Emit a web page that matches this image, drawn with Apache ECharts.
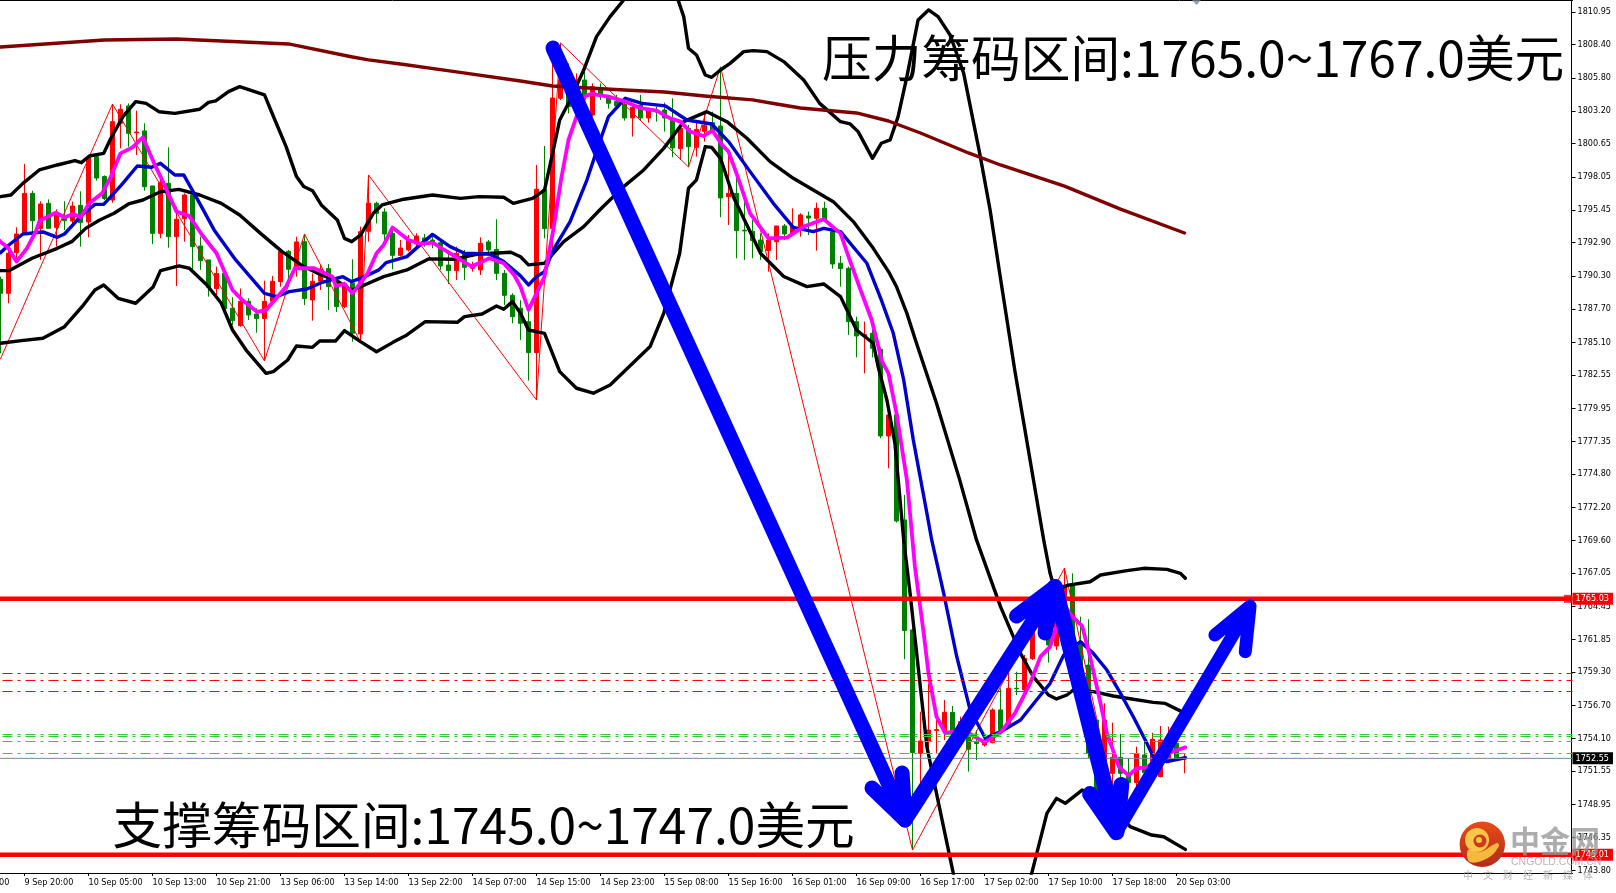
<!DOCTYPE html>
<html><head><meta charset="utf-8">
<style>html,body{margin:0;padding:0;background:#fff;overflow:hidden}#c{width:1616px;height:893px}</style>
<script src="https://cdn.jsdelivr.net/npm/echarts@6/dist/echarts.min.js"></script>
</head><body><div id="c"></div>
<script>
const tickLabels=['9 Sep 12:00','9 Sep 20:00','10 Sep 05:00','10 Sep 13:00','10 Sep 21:00','13 Sep 06:00','13 Sep 14:00','13 Sep 22:00','14 Sep 07:00','14 Sep 15:00','14 Sep 23:00','15 Sep 08:00','15 Sep 16:00','16 Sep 01:00','16 Sep 09:00','16 Sep 17:00','17 Sep 02:00','17 Sep 10:00','17 Sep 18:00','20 Sep 03:00'];
const priceTicks=[1810.95,1808.40,1805.80,1803.20,1800.65,1798.05,1795.45,1792.90,1790.30,1787.70,1785.10,1782.55,1779.95,1777.35,1774.80,1772.20,1769.60,1767.05,1764.45,1761.85,1759.30,1756.70,1754.10,1751.55,1748.95,1746.35,1743.80];
// hourly bars: open, close, low, high
const opens=[1790.03,1788.94,1792.12,1793.63,1796.76,1794.02,1795.98,1794.08,1794.81,1794.6,1795.82,1794.52,1799.63,1798.07,1796.24,1802.24,1803.6,1801.5,1801.64,1797.34,1793.63,1797.55,1793.37,1794.78,1796.63,1792.64,1791.55,1789.31,1790.5,1787.77,1786.41,1788.31,1787.32,1786.96,1788.31,1789.85,1792.22,1790.82,1792.98,1788.42,1789.88,1790.87,1789.98,1787.9,1789.72,1785.76,1793.79,1795.98,1795.3,1793.63,1791.91,1792.33,1792.8,1793.27,1793.11,1792.9,1791.15,1790.71,1792.07,1790.9,1790.77,1792.96,1792.38,1790.5,1788.78,1787.77,1786.72,1784.3,1797.08,1794.0,1804.2,1805.37,1804.85,1805.63,1802.89,1804.98,1804.33,1803.94,1803.75,1802.66,1803.67,1802.66,1803.28,1803.28,1802.45,1800.26,1801.85,1800.36,1801.61,1802.29,1802.03,1796.5,1796.76,1793.88,1793.79,1793.11,1792.28,1792.98,1794.21,1793.63,1794.16,1794.99,1794.81,1795.59,1793.76,1791.29,1790.9,1786.72,1785.6,1785.81,1784.56,1777.78,1779.42,1771.21,1762.6,1752.95,1753.86,1754.74,1754.69,1756.15,1754.64,1754.25,1753.88,1753.6,1753.78,1756.34,1755.03,1758.03,1757.9,1760.35,1762.33,1762.07,1761.35,1763.58,1766.11,1761.68,1759.85,1755.55,1749.55,1751.38,1752.63,1751.38,1750.65,1752.82,1751.38,1751.12,1752.42,1753.73,1752.5];
const closes=[1788.94,1792.07,1793.58,1796.76,1794.62,1795.93,1794.02,1795.2,1794.62,1795.77,1794.47,1799.58,1797.96,1796.35,1802.37,1803.34,1801.46,1801.56,1797.28,1793.63,1797.6,1793.37,1794.73,1796.63,1792.59,1791.5,1789.41,1790.5,1787.74,1786.8,1788.31,1787.24,1786.96,1788.31,1789.88,1792.22,1790.82,1792.96,1788.52,1789.88,1790.82,1789.46,1787.9,1789.67,1785.81,1793.76,1795.98,1795.2,1793.58,1791.91,1792.48,1793.11,1793.42,1792.8,1792.96,1791.08,1790.71,1792.07,1790.97,1791.18,1792.85,1792.33,1790.5,1788.78,1787.11,1786.59,1784.3,1797.08,1794.0,1804.22,1805.63,1803.54,1805.63,1804.33,1805.11,1804.33,1803.81,1803.6,1802.66,1803.49,1802.66,1803.28,1803.13,1802.66,1800.31,1801.85,1800.41,1801.77,1802.08,1801.61,1796.4,1796.76,1793.84,1793.82,1793.06,1792.2,1793.11,1794.21,1793.58,1794.16,1795.07,1794.83,1795.59,1794.68,1791.23,1790.87,1786.72,1785.6,1785.71,1784.64,1777.78,1779.42,1771.13,1762.55,1753.0,1753.91,1754.77,1754.8,1756.15,1754.77,1755.42,1753.26,1753.72,1753.99,1756.34,1754.77,1758.03,1758.0,1760.38,1762.46,1763.11,1761.42,1763.69,1766.11,1762.07,1759.72,1752.95,1749.95,1755.55,1752.63,1751.38,1750.65,1752.89,1751.43,1754.04,1753.99,1754.25,1752.55,1752.55];
const lows=[1784.24,1788.16,1791.55,1793.50,1793.50,1791.55,1794.02,1792.59,1793.89,1794.41,1792.59,1793.32,1797.75,1796.24,1796.03,1800.28,1800.41,1799.76,1796.97,1792.8,1793.24,1792.51,1789.51,1792.98,1790.77,1790.77,1788.68,1788.68,1787.37,1786.46,1786.33,1786.85,1785.86,1783.72,1788.16,1789.46,1789.46,1790.24,1788.02,1786.8,1789.2,1787.63,1787.48,1787.77,1785.16,1785.16,1792.98,1794.41,1792.98,1790.82,1791.81,1792.2,1792.59,1792.59,1792.46,1790.77,1789.67,1789.98,1789.98,1790.63,1790.37,1792.07,1789.98,1788.02,1786.59,1785.29,1782.11,1780.59,1793.24,1792.07,1804.07,1803.02,1804.46,1804.07,1802.76,1804.07,1803.39,1803.49,1802.45,1801.2,1802.5,1802.29,1802.37,1801.59,1799.58,1799.37,1798.85,1799.63,1800.81,1801.59,1794.89,1794.29,1791.68,1791.55,1791.68,1791.55,1790.63,1791.55,1793.11,1793.5,1793.37,1793.5,1792.28,1794.55,1790.87,1789.46,1785.68,1783.93,1782.68,1783.93,1777.6,1775.25,1771.0,1760.31,1745.38,1750.33,1752.94,1752.94,1753.99,1753.99,1754.25,1751.51,1752.42,1753.47,1753.73,1754.64,1754.9,1757.5,1757.77,1760.25,1762.07,1760.04,1761.03,1763.38,1761.81,1759.6,1752.55,1749.55,1749.42,1750.46,1750.46,1750.2,1749.95,1750.85,1751.12,1751.07,1752.16,1752.42,1751.38];
const highs=[1790.24,1792.59,1794.10,1799.06,1796.97,1796.14,1796.29,1795.51,1796.14,1796.11,1796.92,1799.76,1799.89,1798.17,1803.73,1803.73,1803.8,1803.23,1802.24,1797.34,1797.8,1800.36,1795.72,1796.76,1796.63,1793.37,1791.55,1791.03,1790.5,1788.63,1789.31,1788.55,1787.77,1789.93,1790.3,1792.22,1792.33,1793.37,1793.5,1790.5,1791.15,1791.23,1790.24,1789.85,1791.6,1794.15,1798.2,1796.11,1795.59,1794.15,1793.11,1793.5,1793.63,1793.58,1793.37,1793.11,1792.07,1792.59,1792.33,1791.41,1793.32,1793.11,1794.73,1790.77,1788.94,1788.4,1787.64,1798.98,1800.47,1807.2,1808.5,1806.93,1806.15,1806.67,1805.37,1805.37,1804.46,1804.46,1804.07,1803.67,1804.46,1803.41,1803.54,1803.86,1804.2,1802.37,1802.11,1802.5,1803.02,1803.15,1806.67,1799.89,1798.07,1796.5,1794.68,1793.63,1793.63,1794.21,1794.36,1795.59,1795.2,1795.33,1796.03,1796.11,1793.89,1791.86,1791.03,1787.11,1786.72,1786.2,1784.7,1779.55,1779.55,1773.16,1762.7,1756.2,1758.42,1756.07,1757.12,1756.65,1755.81,1754.77,1754.77,1754.38,1756.47,1758.03,1759.2,1759.33,1760.64,1762.59,1763.64,1763.38,1765.98,1767.42,1767.03,1763.64,1763.43,1755.55,1756.86,1755.34,1754.46,1752.55,1753.47,1754.25,1754.56,1755.08,1755.03,1753.99,1752.95];
// indicator vertices: [bar number, price]
const upperBand=[[-1,1796.4],[0,1796.5],[1.3,1796.63],[2.8,1797.54],[4.85,1798.59],[7.1,1798.98],[9.3,1799.32],[10.1,1799.16],[11.1,1799.68],[12.9,1799.89],[13.8,1801.07],[15.3,1802.76],[16.9,1803.94],[18.2,1803.8],[19.8,1803.15],[21.8,1803.02],[24.9,1803.34],[26,1803.88],[26.9,1803.99],[28.5,1804.72],[29.9,1805.11],[33,1804.46],[34.3,1802.5],[35.7,1800.42],[37,1798.07],[37.9,1797.29],[39,1796.97],[40.1,1795.85],[42.1,1794.68],[43,1793.24],[43.9,1792.98],[45,1793.5],[46.6,1795.2],[47.7,1795.85],[50.4,1796.3],[54,1796.63],[57.5,1796.37],[59.8,1796.5],[62.9,1796.45],[64.1,1795.98],[66.5,1796.37],[68,1797.02],[69.1,1800.15],[69.9,1802.5],[71.2,1804.07],[72.9,1806.41],[74.5,1809.02],[76.2,1810.59],[77.9,1811.89],[80,1813.2],[82,1813.6],[83.5,1813],[84.7,1811.89],[85.4,1810.59],[86,1808.11],[87,1807.59],[88.1,1806.02],[88.9,1805.84],[90,1806.41],[91.2,1806.93],[92.9,1807.85],[94.1,1807.93],[95.8,1807.85],[97.9,1807.07],[100.4,1805.63],[102.4,1803.8],[105,1802.37],[106.2,1802.19],[107.2,1801.59],[109,1799.5],[110.1,1800.68],[111.2,1800.94],[112.2,1802.76],[113.3,1805.89],[114.7,1810.33],[116,1811.11],[117.2,1810.59],[118.7,1809.15],[120.4,1806.15],[122.4,1799.89],[123.7,1795.46],[124.9,1790.5],[126.8,1782.86],[130.4,1769.64],[131.2,1767.03],[131.8,1765.72],[133.5,1766.11],[136.2,1766.37],[137.5,1766.9],[140.8,1767.24],[142.9,1767.42],[145.8,1767.34],[147.5,1767.03],[148.1,1766.64]];
const middleBand=[[-1,1790.7],[0,1790.71],[1.05,1790.71],[3.95,1791.68],[7.1,1792.46],[8.9,1792.98],[10.65,1794.02],[12.4,1794.68],[14.2,1795.2],[16,1795.93],[17.8,1796.24],[20,1796.89],[22.3,1797.07],[24.9,1796.63],[27.6,1795.98],[29.9,1795.07],[32.5,1793.63],[35.2,1792.2],[37.9,1791.03],[40.1,1790.37],[41.9,1789.98],[43.9,1789.15],[45.5,1789.59],[47.9,1790.24],[50.8,1790.77],[53.5,1791.63],[56.6,1791.6],[59.8,1792.02],[63.8,1792.15],[65,1791.8],[66,1791.16],[68,1791.29],[69.1,1792.07],[70.4,1792.98],[72.9,1794.16],[74.9,1795.46],[77.9,1797.29],[80.4,1798.59],[82.9,1800.28],[85.4,1802.37],[88.3,1803.15],[90.8,1802.37],[93.3,1801.07],[96.2,1799.24],[99.1,1797.94],[101.6,1797.02],[104.1,1796.11],[106.6,1794.55],[109.1,1792.46],[111,1790.64],[112,1789.46],[113.3,1787.37],[114.5,1785.03],[117,1780.34],[119.9,1774.34],[122,1769.64],[125,1764.42],[127.5,1760.77],[129.1,1758.94],[131,1757.51],[132,1757.2],[133.3,1757.51],[134.1,1757.9],[136.6,1757.77],[139.1,1757.43],[140.8,1757.25],[144.1,1756.93],[145.6,1756.85],[148.1,1756.07]];
const lowerBand=[[-1,1785],[0,1785.03],[2.6,1785.24],[5.3,1785.42],[8,1786.33],[10.2,1787.89],[11.8,1789.2],[12.9,1789.59],[14.7,1788.55],[16.9,1788.16],[19.1,1789.46],[20,1790.71],[22.3,1791.08],[23.6,1790.9],[25.8,1789.59],[27.6,1788.16],[29,1786.07],[30.7,1784.5],[33.2,1782.68],[34.1,1782.81],[35.9,1783.72],[37,1784.82],[39,1784.71],[39.9,1785.21],[41.9,1785.21],[43,1786.02],[45,1785.16],[47,1784.37],[49,1785.08],[50.8,1785.68],[53.1,1786.72],[57.1,1786.67],[58,1787.11],[60.2,1787.32],[62,1787.95],[62.9,1787.69],[64,1788.29],[65,1787.37],[66,1786.07],[68,1785.81],[69.9,1782.81],[72,1781.51],[74.1,1781.12],[76.2,1781.77],[81.2,1784.77],[82.9,1787.37],[84.9,1792.07],[86,1797.16],[87,1797.82],[88.1,1800.42],[88.9,1800.36],[90,1799.5],[91.6,1796.5],[95,1792.07],[97.9,1790.25],[100.8,1789.46],[102.9,1789.67],[105,1788.68],[107,1786.07],[109.1,1785.03],[109.7,1783.2],[110.8,1780.59],[111.8,1777.21],[112.9,1769.64],[113.7,1765.46],[115.8,1753.46],[117,1749.81],[119.1,1743.55],[119.3,1742.8],[128.5,1742.8],[128.9,1743.55],[130.8,1748.25],[132,1749.42],[133.1,1749.03],[135.2,1750.07],[138,1749.6],[141.2,1747.21],[143.9,1746.55],[145.4,1746.42],[148.1,1745.43]];
const slowAverage=[[-1,1808.2],[0,1808.21],[13,1808.76],[22,1808.84],[36,1808.45],[44,1807.43],[46,1807.2],[50,1806.88],[57,1806.26],[65,1805.55],[69,1805.16],[78,1804.85],[83,1804.69],[88,1804.38],[94,1804.07],[97,1803.75],[100,1803.44],[107,1803.05],[111,1802.42],[115,1801.48],[121,1799.92],[125,1798.98],[133,1797.33],[140,1795.53],[148,1793.66]];
const blueAverage=[[-1,1791.8],[0,1792.12],[1.05,1792.72],[2.8,1793.58],[5.3,1793.74],[7.1,1793.32],[8,1793.58],[10.2,1795.07],[11.8,1795.9],[12.9,1795.9],[15.1,1797.41],[17.1,1798.9],[18.9,1798.8],[20,1799.11],[21.8,1798.2],[22.9,1798.2],[24.9,1795.98],[26.7,1793.9],[29.4,1791.55],[31.2,1790.24],[33,1788.94],[34.5,1788.68],[36.1,1789.07],[38.3,1789.28],[40.1,1789.77],[42.8,1790.24],[43.9,1789.85],[45.5,1790.24],[47.3,1790.77],[48.2,1791.34],[50.8,1791.81],[52.2,1792.59],[54,1793.55],[56.2,1792.59],[58,1792.07],[61.1,1792.02],[62.9,1791.42],[65,1790.3],[66,1789.59],[67,1790.24],[68,1790.63],[69.1,1792.33],[71.2,1794.55],[73.3,1797.8],[74.7,1800.42],[76,1802.76],[78.1,1804.2],[80.2,1803.8],[83.1,1803.6],[85.8,1802.5],[88.9,1802.19],[91,1800.81],[93.7,1798.46],[96.6,1795.98],[99.1,1794.1],[101.6,1793.76],[102.9,1794.02],[105,1793.76],[108.3,1791.29],[110.1,1788.42],[111.6,1785.81],[112.9,1782.16],[114.1,1777.47],[115.8,1771.73],[116.4,1769.64],[117.9,1765.46],[119.5,1760.6],[121.2,1756.34],[123.1,1754.12],[125.4,1754.77],[127.5,1755.55],[129.5,1757.12],[131.2,1758.42],[132.9,1760.64],[135,1761.68],[136.6,1760.77],[138.3,1759.46],[140,1757.64],[141.6,1755.81],[143.3,1753.73],[144.1,1752.68],[145.8,1752.29],[148.1,1752.6]];
const fastAverage=[[-1,1793.6],[0,1792.98],[1,1792.46],[2,1791.42],[3.3,1792.46],[4.4,1793.76],[4.9,1794.62],[6.9,1795.25],[8,1794.89],[9.1,1795.15],[10,1794.89],[11.1,1795.98],[12.7,1796.76],[13.8,1798.07],[15,1799.89],[16.5,1800.36],[17.8,1801.15],[19.2,1799.11],[20.5,1797.41],[22,1795.33],[23.6,1794.99],[25.2,1793.5],[27,1792.07],[29,1789.2],[30.3,1788.37],[32.1,1787.48],[33.2,1787.63],[35.7,1789.46],[36.8,1790.9],[39.2,1790.9],[41.5,1790.24],[41.9,1789.51],[43,1789.67],[44,1788.94],[45.9,1790.5],[47,1792.07],[47.9,1792.72],[49,1794.08],[51,1793.11],[52.6,1792.8],[54,1792.9],[56.2,1792.07],[58.9,1791.03],[61.1,1791.68],[62.9,1791.29],[64.2,1790.37],[65,1789.46],[66,1787.64],[67,1788.94],[68,1790.24],[69.1,1793.9],[70.1,1797.94],[71,1800.94],[72,1802.76],[73.1,1804.38],[73.9,1804.54],[76,1804.33],[78.1,1803.94],[80,1803.42],[82,1803.24],[83.7,1802.63],[85,1802.37],[86.2,1801.59],[87.9,1801.25],[89,1801.67],[90.2,1800.55],[91,1800.03],[92,1798.33],[93.7,1795.2],[96,1793.24],[98.3,1793.29],[100.4,1794.16],[102.9,1794.73],[105,1793.63],[106,1791.81],[107.5,1789.2],[108.9,1786.85],[110.2,1783.59],[111,1782.68],[112,1779.55],[113.3,1774.34],[114.3,1767.56],[115.4,1762.34],[116,1759.2],[117,1755.81],[118.1,1754.51],[119.5,1754.72],[121.2,1754.46],[123,1753.8],[125,1754.56],[126.8,1756.07],[128.7,1758.42],[130,1760.51],[131.2,1761.29],[132,1762.85],[133.1,1764.42],[133.9,1763.69],[135.2,1762.91],[136.2,1760.51],[137.5,1756.86],[138.3,1754.51],[139.8,1751.9],[141,1751.2],[142,1751.77],[143.3,1751.85],[145,1752.68],[146.8,1753.15],[148.1,1753.41]];
const zigzag=[[0,1783.8],[5,1791.0],[14,1803.75],[33,1783.64],[38,1793.58],[45,1785.13],[46,1798.2],[67,1780.59],[70,1808.53],[86,1798.82],[90,1806.65],[114,1745.38],[133,1767.44],[140,1746.94]];
// hand-drawn blue arrows: shaft start, tip, barb, tip, barb
const arrowDown1=[[69.06,1808.13],[113.06,1747.73],[108.94,1750.23],[113.06,1747.73],[112.7,1751.4]];
const arrowUp1=[[113.06,1747.73],[131.8,1765.96],[127,1763.69],[131.8,1765.96],[130.56,1762.36]];
const arrowDown2=[[131.8,1765.96],[139.5,1746.78],[136.2,1749.76],[139.5,1746.78],[140.1,1750.47]];
const arrowUp2=[[139.5,1746.78],[156.2,1764.47],[151.8,1762.2],[156.2,1764.47],[155.6,1760.9]];
const resistanceLevel=1765.03, supportLevel=1745.01, lastPrice=1752.55;
const redDashLevels=[1759.19,1758.64,1757.78];
const greenDashLevels=[1754.416,1754.26,1753.869,1752.93];
const resistanceText='压力筹码区间:1765.0~1767.0美元';
const supportText='支撑筹码区间:1745.0~1747.0美元';

const BARS_BEFORE=5, BAND_COUNT=202;
const axisFont='"DejaVu Sans Condensed","Liberation Sans"';
const categories=Array.from({length:BAND_COUNT},(_,k)=>(k%8===0&&tickLabels[k/8])||'');
const blank=Array.from({length:BARS_BEFORE},()=>['-','-','-','-']);
const candles=blank.concat(opens.map((o,i)=>[o,closes[i],lows[i],highs[i]]));
const X0=-BARS_BEFORE-0.5, X1=X0+BAND_COUNT;
const line=(name,data,color,width,extra)=>Object.assign({type:'line',name,data,xAxisIndex:1,yAxisIndex:0,showSymbol:false,symbol:'none',silent:true,animation:false,
  lineStyle:{color,width,cap:'round',join:'round'}},extra||{});
const level=(name,p,color,width,type,extra)=>{const s=line(name,[[X0,p],[X1,p]],color,width,extra);s.lineStyle.type=type;s.lineStyle.cap='butt';return s;};
const priceTag=(bg)=>({show:true,formatter:(o)=>o.value[1].toFixed(2),color:'#fff',backgroundColor:bg,fontFamily:axisFont,fontSize:9,padding:[2,4,1,3],distance:0,lineHeight:9,align:'left'});
const series=[
 {type:'candlestick',name:'XAUUSD',data:candles,xAxisIndex:0,yAxisIndex:0,barWidth:5,silent:true,animation:false,
  itemStyle:{color:'#ff0000',color0:'#008000',borderColor:'#ff0000',borderColor0:'#008000',borderWidth:1}},
 line('zigzag',zigzag,'#ff0000',1),
 line('upper',upperBand,'#000',3.4),line('middle',middleBand,'#000',3.4),line('lower',lowerBand,'#000',3.4),
 line('slow',slowAverage,'#800000',3.4),line('blue',blueAverage,'#0000cd',3.4),line('fast',fastAverage,'#ff00ff',3.8)
];
redDashLevels.forEach((p,i)=>series.push(level('redDash'+i,p,'#ff0000',1,[10,5,3,5])));
greenDashLevels.forEach((p,i)=>series.push(level('greenDash'+i,p,'#32cd32',1,[10,5,3,5])));
series.push(level('last',lastPrice,'#778899',1,'solid',{endLabel:priceTag('#000')}));
series.push(level('resistance',resistanceLevel,'#ff0000',4.5,'solid',{endLabel:priceTag('#ff0000')}));
series.push(level('support',supportLevel,'#ff0000',4.5,'solid',{endLabel:priceTag('#ff0000')}));
series.push({type:'scatter',name:'handle',data:[[195.94,resistanceLevel]],xAxisIndex:1,yAxisIndex:0,symbol:'rect',symbolSize:8,itemStyle:{color:'#ff0000'},silent:true,animation:false});
series.push({type:'scatter',name:'shift',data:[[149.5,1811.7]],xAxisIndex:1,yAxisIndex:0,symbol:'triangle',symbolRotate:180,symbolSize:[9,5],itemStyle:{color:'#778899'},silent:true,animation:false});
series.push(line('a1',arrowDown1,'#0000ff',15),line('a2',arrowUp1,'#0000ff',15),line('a3',arrowDown2,'#0000ff',16),line('a4',arrowUp2,'#0000ff',13));

const cjk='"Noto Sans CJK SC"';
const txt=(text,x,y,fontSize,fill,extra)=>({type:'text',x,y,z:100,silent:true,style:Object.assign({text,fill,fontSize,fontFamily:cjk,verticalAlign:'middle',align:'left'},extra||{})});
const chart=echarts.init(document.getElementById('c'),null,{renderer:'canvas',width:1616,height:893});
chart.setOption({
 animation:false,backgroundColor:'#fff',
 grid:{left:-43.5,top:0,width:1616,height:873,containLabel:false,outerBoundsMode:'none'},
 xAxis:[
  {type:'category',data:categories,boundaryGap:true,position:'bottom',
   axisLine:{lineStyle:{color:'#000',width:1}},
   axisTick:{show:true,alignWithLabel:true,length:3,interval:(i,v)=>v!=='',lineStyle:{color:'#000'}},
   axisLabel:{show:true,interval:(i,v)=>v!=='',align:'left',margin:5,color:'#000',fontSize:9,fontFamily:axisFont,hideOverlap:false},
   splitLine:{show:false}},
  {type:'value',min:X0,max:X1,position:'top',axisLine:{show:true,onZero:false,lineStyle:{color:'#000',width:1}},axisTick:{show:false},axisLabel:{show:false},splitLine:{show:false}}
 ],
 yAxis:[{type:'value',position:'right',offset:-1,min:1743.58,max:1811.889,
   axisLine:{show:true,onZero:false,lineStyle:{color:'#000',width:1}},
   axisTick:{show:true,length:4,customValues:priceTicks,lineStyle:{color:'#000'}},
   axisLabel:{show:true,customValues:priceTicks,margin:6,padding:[3,0,0,0],color:'#000',fontSize:9,fontFamily:axisFont,formatter:(v)=>v.toFixed(2)},
   splitLine:{show:false}}],
 series,
 graphic:{elements:[
  txt(resistanceText,822,58,49.7,'#000'),
  txt(supportText,112.5,825,49.7,'#000'),
  {type:'circle',z:101,silent:true,shape:{cx:1482.3,cy:844.3,r:22.7},style:{fill:new echarts.graphic.LinearGradient(0,0,0,1,[{offset:0,color:'#ea4a16'},{offset:1,color:'#b32a1c'}])}},
  {type:'polygon',z:102,silent:true,shape:{smooth:0.4,points:[[1468,850],[1480,852],[1497,843],[1499,846],[1488,858],[1470,862]]},style:{fill:'#f6b93b'}},
  {type:'circle',z:102,silent:true,shape:{cx:1477,cy:840,r:12},style:{fill:'#f8c64a'}},
  {type:'circle',z:103,silent:true,shape:{cx:1480,cy:841,r:6.5},style:{fill:'#cf3a1c'}},
  {type:'circle',z:104,silent:true,shape:{cx:1479,cy:840,r:3},style:{fill:'#f8c64a'}},
  txt('中金网',1510,841,30,'rgba(150,150,150,0.78)',{fontWeight:'bold'}),
  txt('CNGOLD.COM.CN',1511,862,10.5,'rgba(170,170,170,0.85)',{fontFamily:'Liberation Sans'}),
  txt('中　文　财　经　新　媒　体',1463,875,10,'rgba(165,165,165,0.85)')
 ]}
});
</script></body></html>
